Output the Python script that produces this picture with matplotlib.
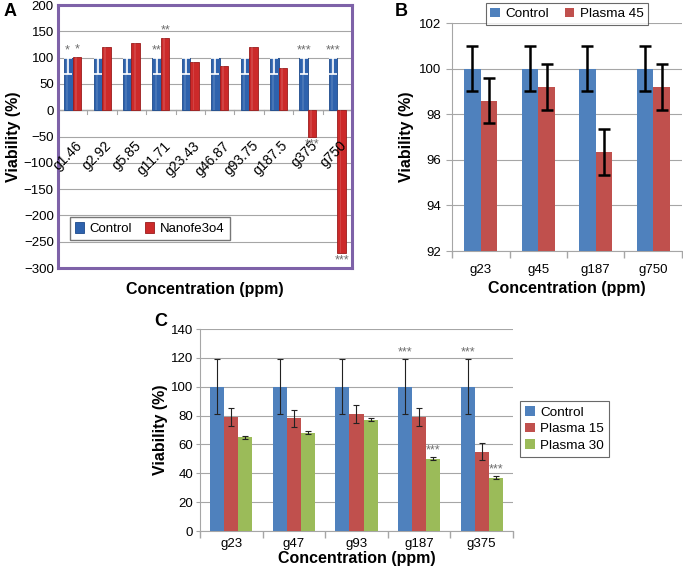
import matplotlib
matplotlib.use("Agg")
import matplotlib.pyplot as plt
import numpy as np

plt.rcParams['font.family'] = ['Liberation Sans', 'DejaVu Sans']

# ---------------- Panel A data ----------------
a_cats = ["g1.46", "g2.92", "g5.85", "g11.71", "g23.43", "g46.87", "g93.75", "g187.5", "g375", "g750"]
a_control = [100, 100, 100, 100, 100, 100, 100, 100, 100, 100]
a_control_err = [31, 31, 31, 31, 31, 31, 31, 31, 31, 31]
a_nano = [102, 120, 128, 138, 92, 85, 120, 80, -50, -272]
a_yticks = [-300, -250, -200, -150, -100, -50, 0, 50, 100, 150, 200]
a_star_ctrl = {0: "*", 3: "**", 8: "***", 9: "***"}
a_star_nano = {0: "*", 3: "**", 8: "***", 9: "***"}

# ---------------- Panel B data ----------------
b_cats = ["g23", "g45", "g187", "g750"]
b_control = [100, 100, 100, 100]
b_control_err = [1.0, 1.0, 1.0, 1.0]
b_plasma45 = [98.6, 99.2, 96.35, 99.2]
b_plasma45_err = [1.0, 1.0, 1.0, 1.0]
b_yticks = [92, 94, 96, 98, 100, 102]

# ---------------- Panel C data ----------------
c_cats = ["g23", "g47", "g93", "g187", "g375"]
c_control = [100, 100, 100, 100, 100]
c_control_err = [19, 19, 19, 19, 19]
c_plasma15 = [79, 78, 81, 79, 55]
c_plasma15_err = [6, 6, 6, 6, 6]
c_plasma30 = [65, 68, 77, 50, 37]
c_plasma30_err = [1, 1, 1, 1, 1]
c_yticks = [0, 20, 40, 60, 80, 100, 120, 140]
c_star_ctrl = {3: "***", 4: "***"}
c_star_p30 = {3: "***", 4: "***"}

BLUE = "#4f81bd"
RED = "#c0504d"
GREEN = "#9bbb59"
GRID = "#a6a6a6"
STAR = "#6d6d6d"

fig = plt.figure(figsize=(6.83, 5.71), dpi=100)


def excel_xaxis(ax, n, labels, fs, pad):
    ax.set_xlim(-0.5, n - 0.5)
    ax.set_xticks(np.arange(n))
    ax.set_xticklabels(labels, fontsize=fs)
    ax.set_xticks(np.arange(n + 1) - 0.5, minor=True)
    ax.tick_params(axis='x', which='major', length=0, pad=pad)
    ax.tick_params(axis='x', which='minor', length=5, color=GRID, width=1)


# ================= Panel A =================
axA = fig.add_axes([0.0849, 0.5306, 0.4305, 0.4606])
x = np.arange(len(a_cats))
w = 0.29
hc = axA.bar(x - w / 2, a_control, w, color="#2e62ad", edgecolor="#1d4a8c", linewidth=0.6, zorder=3)
hn = axA.bar(x + w / 2, a_nano, w, color="#cc2a2a", edgecolor="#9a1c1c", linewidth=0.6, zorder=3)
# subtle highlight to mimic the 3D look
axA.bar(x - w / 2 - w * 0.12, a_control, w * 0.22, color="white", alpha=0.12, linewidth=0, zorder=3.5)
axA.bar(x + w / 2 - w * 0.12, a_nano, w * 0.22, color="white", alpha=0.12, linewidth=0, zorder=3.5)
axA.errorbar(x - w / 2, a_control, yerr=[a_control_err, [0] * len(x)], fmt='none',
             ecolor="white", elinewidth=1.2, capsize=3, capthick=1.2, zorder=4)
axA.set_ylim(-300, 200)
axA.set_yticks(a_yticks)
axA.set_yticklabels([str(v).replace('-', '\u2212') for v in a_yticks], fontsize=9.5)
axA.set_xlim(-0.5, len(a_cats) - 0.5)
axA.set_xticks([])
axA.yaxis.grid(True, color=GRID, linewidth=0.8, zorder=0)
axA.axhline(0, color=GRID, linewidth=1, zorder=2)
for b in np.arange(len(a_cats) + 1) - 0.5:
    axA.plot([b, b], [0, -8], color=GRID, linewidth=0.8, zorder=2)
for sp in axA.spines.values():
    sp.set_color("#7e62a8")
    sp.set_linewidth(2.2)
axA.tick_params(axis='y', length=0, pad=3)
for i, lab in enumerate(a_cats):
    axA.text(i + 0.08, -54, lab, rotation=45, ha='right', va='top', rotation_mode='anchor',
             fontsize=10, zorder=5)
for i, s in a_star_ctrl.items():
    axA.text(i - w / 2 - (0.05 if s == "*" else 0), a_control[i] + 3, s, ha='center', va='bottom',
             fontsize=9, color=STAR, zorder=5)
for i, s in a_star_nano.items():
    if a_nano[i] > 0:
        axA.text(i + w / 2, a_nano[i] + 3, s, ha='center', va='bottom', fontsize=9, color=STAR, zorder=5)
    else:
        axA.text(i + w / 2, a_nano[i] - 3, s, ha='center', va='top', fontsize=9, color=STAR, zorder=5)
axA.set_ylabel("Viability (%)", fontsize=11.5, fontweight='bold', labelpad=2)
axA.set_xlabel("Concentration (ppm)", fontsize=11.5, fontweight='bold', labelpad=10)
axA.legend([hc, hn], ["Control", "Nanofe3o4"], loc='lower left', bbox_to_anchor=(0.04, 0.106), ncol=2,
           fontsize=9.5, frameon=True, fancybox=False, edgecolor="#555555", handlelength=0.7,
           handleheight=0.9, handletextpad=0.4, columnspacing=1.0, borderpad=0.4, borderaxespad=0)
fig.text(0.005, 0.995, "A", fontsize=13, fontweight='bold', va='top', ha='left')

# ================= Panel B =================
axB = fig.add_axes([0.6618, 0.5604, 0.3367, 0.3993])
x = np.arange(len(b_cats))
w = 0.29
axB.bar(x - w / 2, b_control, w, color=BLUE, zorder=3, label="Control")
axB.bar(x + w / 2, b_plasma45, w, color=RED, zorder=3, label="Plasma 45")
axB.errorbar(x - w / 2, b_control, yerr=b_control_err, fmt='none', ecolor='black',
             elinewidth=1.8, capsize=4, capthick=1.8, zorder=4)
axB.errorbar(x + w / 2, b_plasma45, yerr=b_plasma45_err, fmt='none', ecolor='black',
             elinewidth=1.8, capsize=4, capthick=1.8, zorder=4)
axB.set_ylim(92, 102)
axB.set_yticks(b_yticks)
axB.tick_params(axis='y', labelsize=9.5, length=4, color=GRID, direction='out')
excel_xaxis(axB, len(b_cats), b_cats, 9.5, 9)
axB.yaxis.grid(True, color=GRID, linewidth=0.8, zorder=0)
for s in ['top', 'right']:
    axB.spines[s].set_visible(False)
for s in ['left', 'bottom']:
    axB.spines[s].set_color(GRID)
axB.set_ylabel("Viability (%)", fontsize=11.5, fontweight='bold', labelpad=4)
axB.set_xlabel("Concentration (ppm)", fontsize=11.5, fontweight='bold', labelpad=4)
leg = axB.legend(loc='upper center', bbox_to_anchor=(0.5, 1.088), ncol=2, fontsize=9.7,
                 frameon=True, fancybox=False, edgecolor="#444444", handlelength=0.7,
                 handleheight=0.7, handletextpad=0.4, columnspacing=1.2, borderpad=0.35,
                 borderaxespad=0)
leg.get_frame().set_linewidth(0.8)
fig.text(0.578, 0.995, "B", fontsize=13, fontweight='bold', va='top', ha='left')

# ================= Panel C =================
axC = fig.add_axes([0.2928, 0.0700, 0.4583, 0.3538])
x = np.arange(len(c_cats))
w = 0.224
axC.bar(x - w, c_control, w, color=BLUE, zorder=3, label="Control")
axC.bar(x, c_plasma15, w, color=RED, zorder=3, label="Plasma 15")
axC.bar(x + w, c_plasma30, w, color=GREEN, zorder=3, label="Plasma 30")
for off, vals, err in [(-w, c_control, c_control_err), (0, c_plasma15, c_plasma15_err),
                       (w, c_plasma30, c_plasma30_err)]:
    axC.errorbar(x + off, vals, yerr=err, fmt='none', ecolor='#222222', elinewidth=0.8,
                 capsize=2.5, capthick=0.8, zorder=4)
for i, s in c_star_ctrl.items():
    axC.text(i - w, c_control[i] + c_control_err[i] + 0.5, s, ha='center', va='bottom',
             fontsize=9, color=STAR, zorder=5)
for i, s in c_star_p30.items():
    axC.text(i + w, c_plasma30[i] + c_plasma30_err[i] + 0.5, s, ha='center', va='bottom',
             fontsize=9, color=STAR, zorder=5)
axC.set_ylim(0, 140)
axC.set_yticks(c_yticks)
axC.tick_params(axis='y', labelsize=9.5, length=3, pad=2, color=GRID, direction='out')
excel_xaxis(axC, len(c_cats), c_cats, 9.5, 5)
axC.yaxis.grid(True, color=GRID, linewidth=0.8, zorder=0)
for s in ['top', 'right']:
    axC.spines[s].set_visible(False)
for s in ['left', 'bottom']:
    axC.spines[s].set_color(GRID)
axC.set_ylabel("Viability (%)", fontsize=11.5, fontweight='bold', labelpad=2)
axC.set_xlabel("Concentration (ppm)", fontsize=11.5, fontweight='bold', labelpad=1)
leg = axC.legend(loc='upper left', bbox_to_anchor=(1.022, 0.644), fontsize=9.7, frameon=True,
                 fancybox=False, edgecolor="#444444", handlelength=0.7, handleheight=0.7,
                 handletextpad=0.4, borderpad=0.4, labelspacing=0.3, borderaxespad=0)
leg.get_frame().set_linewidth(0.8)
fig.text(0.226, 0.452, "C", fontsize=13, fontweight='bold', va='top', ha='left')

fig.savefig("out.png", dpi=100)
